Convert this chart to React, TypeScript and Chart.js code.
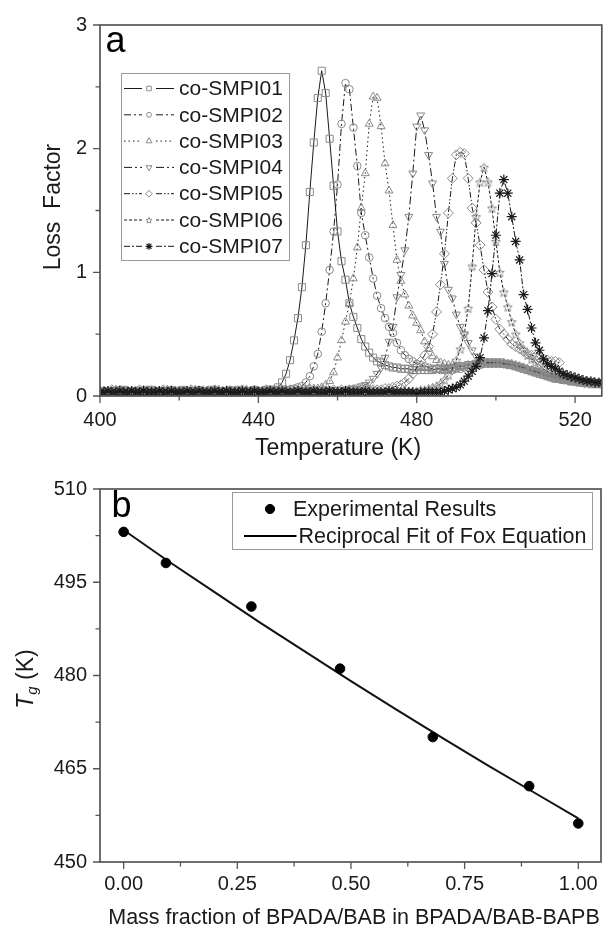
import React, { useEffect, useRef } from 'react';
import { Chart, registerables } from 'chart.js';
import { drawPoint } from 'chart.js/helpers';

Chart.register(...registerables);

const FONT = '"Liberation Sans", Arial, Helvetica, sans-serif';

// ---------------- Panel (a): dielectric loss factor vs temperature ----------------
const temperatureK = [
  400, 401, 402, 403, 404, 405, 406, 407, 408, 409,
  410, 411, 412, 413, 414, 415, 416, 417, 418, 419,
  420, 421, 422, 423, 424, 425, 426, 427, 428, 429,
  430, 431, 432, 433, 434, 435, 436, 437, 438, 439,
  440, 441, 442, 443, 444, 445, 446, 447, 448, 449,
  450, 451, 452, 453, 454, 455, 456, 457, 458, 459,
  460, 461, 462, 463, 464, 465, 466, 467, 468, 469,
  470, 471, 472, 473, 474, 475, 476, 477, 478, 479,
  480, 481, 482, 483, 484, 485, 486, 487, 488, 489,
  490, 491, 492, 493, 494, 495, 496, 497, 498, 499,
  500, 501, 502, 503, 504, 505, 506, 507, 508, 509,
  510, 511, 512, 513, 514, 515, 516, 517, 518, 519,
  520, 521, 522, 523, 524, 525, 526, 527,
];

const lossSMPI01 = [
  0.04, 0.03, 0.04, 0.04, 0.03, 0.04, 0.05, 0.04, 0.03, 0.04,
  0.04, 0.03, 0.04, 0.05, 0.04, 0.03, 0.04, 0.04, 0.03, 0.04,
  0.04, 0.05, 0.04, 0.03, 0.04, 0.04, 0.03, 0.04, 0.05, 0.04,
  0.03, 0.04, 0.04, 0.03, 0.04, 0.05, 0.04, 0.04, 0.04, 0.05,
  0.04, 0.04, 0.05, 0.05, 0.05, 0.07, 0.11, 0.18, 0.29, 0.45,
  0.63, 0.88, 1.22, 1.65, 2.05, 2.41, 2.63, 2.45, 2.08, 1.70,
  1.33, 1.09, 0.94, 0.75, 0.64, 0.55, 0.46, 0.40, 0.35, 0.31,
  0.28, 0.27, 0.25, 0.24, 0.23, 0.23, 0.22, 0.22, 0.22, 0.21,
  0.21, 0.21, 0.21, 0.21, 0.21, 0.22, 0.22, 0.22, 0.22, 0.23,
  0.23, 0.24, 0.24, 0.25, 0.25, 0.26, 0.26, 0.27, 0.27, 0.27,
  0.27, 0.27, 0.26, 0.26, 0.25, 0.24, 0.23, 0.22, 0.21, 0.20,
  0.19, 0.18, 0.17, 0.16, 0.15, 0.14, 0.14, 0.13, 0.13, 0.12,
  0.12, 0.12, 0.11, 0.11, 0.11, 0.10, 0.10, 0.10,
];

const lossSMPI02 = [
  0.03, 0.04, 0.04, 0.03, 0.04, 0.05, 0.04, 0.03, 0.04, 0.04,
  0.03, 0.04, 0.05, 0.04, 0.04, 0.03, 0.04, 0.04, 0.05, 0.04,
  0.03, 0.04, 0.04, 0.03, 0.04, 0.05, 0.04, 0.03, 0.04, 0.04,
  0.04, 0.03, 0.04, 0.05, 0.04, 0.04, 0.03, 0.04, 0.04, 0.05,
  0.04, 0.04, 0.03, 0.04, 0.05, 0.04, 0.04, 0.05, 0.05, 0.06,
  0.07, 0.08, 0.11, 0.16, 0.24, 0.34, 0.52, 0.75, 1.02, 1.33,
  1.71, 2.20, 2.53, 2.48, 2.17, 1.86, 1.48, 1.30, 1.12, 0.95,
  0.81, 0.71, 0.63, 0.56, 0.51, 0.43, 0.37, 0.33, 0.30, 0.28,
  0.26, 0.25, 0.24, 0.23, 0.22, 0.22, 0.21, 0.21, 0.21, 0.21,
  0.22, 0.22, 0.23, 0.23, 0.24, 0.25, 0.25, 0.26, 0.26, 0.26,
  0.26, 0.26, 0.26, 0.25, 0.25, 0.24, 0.23, 0.22, 0.21, 0.20,
  0.19, 0.18, 0.17, 0.16, 0.15, 0.14, 0.14, 0.13, 0.13, 0.12,
  0.12, 0.11, 0.11, 0.11, 0.10, 0.10, 0.10, 0.10,
];

const lossSMPI03 = [
  0.04, 0.04, 0.03, 0.04, 0.05, 0.04, 0.03, 0.04, 0.04, 0.03,
  0.04, 0.05, 0.04, 0.04, 0.03, 0.04, 0.04, 0.05, 0.04, 0.03,
  0.04, 0.04, 0.03, 0.04, 0.05, 0.04, 0.04, 0.03, 0.04, 0.04,
  0.05, 0.04, 0.03, 0.04, 0.04, 0.03, 0.04, 0.05, 0.04, 0.04,
  0.03, 0.04, 0.04, 0.05, 0.04, 0.04, 0.04, 0.05, 0.04, 0.05,
  0.05, 0.05, 0.05, 0.06, 0.06, 0.06, 0.07, 0.09, 0.12, 0.19,
  0.31, 0.45, 0.60, 0.75, 0.95, 1.20, 1.52, 1.80, 2.20, 2.42,
  2.41, 2.18, 1.88, 1.66, 1.38, 1.10, 0.93, 0.82, 0.73, 0.65,
  0.59, 0.53, 0.44, 0.38, 0.32, 0.29, 0.27, 0.26, 0.25, 0.25,
  0.24, 0.24, 0.24, 0.25, 0.25, 0.26, 0.26, 0.27, 0.27, 0.27,
  0.27, 0.27, 0.27, 0.26, 0.26, 0.25, 0.24, 0.23, 0.22, 0.21,
  0.20, 0.19, 0.18, 0.17, 0.16, 0.15, 0.14, 0.14, 0.13, 0.13,
  0.12, 0.12, 0.11, 0.11, 0.11, 0.10, 0.10, 0.10,
];

const lossSMPI04 = [
  0.04, 0.03, 0.04, 0.04, 0.05, 0.04, 0.03, 0.04, 0.04, 0.03,
  0.04, 0.04, 0.05, 0.04, 0.03, 0.04, 0.04, 0.03, 0.04, 0.05,
  0.04, 0.04, 0.03, 0.04, 0.04, 0.05, 0.04, 0.03, 0.04, 0.04,
  0.03, 0.04, 0.05, 0.04, 0.04, 0.03, 0.04, 0.04, 0.05, 0.04,
  0.04, 0.03, 0.04, 0.04, 0.05, 0.04, 0.04, 0.03, 0.04, 0.04,
  0.05, 0.04, 0.04, 0.05, 0.04, 0.05, 0.05, 0.04, 0.05, 0.05,
  0.05, 0.05, 0.05, 0.06, 0.06, 0.07, 0.08, 0.09, 0.11, 0.14,
  0.18, 0.23, 0.31, 0.44, 0.56, 0.80, 0.98, 1.18, 1.45, 1.80,
  2.18, 2.27, 2.15, 1.95, 1.72, 1.45, 1.33, 1.07, 0.86, 0.79,
  0.66, 0.56, 0.50, 0.43, 0.37, 0.32, 0.29, 0.28, 0.27, 0.27,
  0.27, 0.27, 0.26, 0.26, 0.25, 0.25, 0.24, 0.23, 0.22, 0.21,
  0.20, 0.19, 0.18, 0.17, 0.16, 0.15, 0.14, 0.14, 0.13, 0.13,
  0.12, 0.12, 0.11, 0.11, 0.11, 0.10, 0.10, 0.10,
];

const lossSMPI05 = [
  0.03, 0.04, 0.04, 0.05, 0.04, 0.03, 0.04, 0.04, 0.03, 0.04,
  0.05, 0.04, 0.04, 0.03, 0.04, 0.04, 0.05, 0.04, 0.03, 0.04,
  0.04, 0.03, 0.04, 0.05, 0.04, 0.04, 0.03, 0.04, 0.04, 0.05,
  0.04, 0.03, 0.04, 0.04, 0.03, 0.04, 0.05, 0.04, 0.04, 0.03,
  0.04, 0.04, 0.05, 0.04, 0.04, 0.03, 0.04, 0.04, 0.05, 0.04,
  0.04, 0.04, 0.04, 0.05, 0.04, 0.04, 0.05, 0.04, 0.04, 0.05,
  0.04, 0.05, 0.04, 0.05, 0.05, 0.04, 0.05, 0.05, 0.05, 0.05,
  0.05, 0.05, 0.06, 0.06, 0.07, 0.08, 0.09, 0.11, 0.14, 0.18,
  0.23, 0.28, 0.33, 0.40, 0.50, 0.68, 0.90, 1.15, 1.48, 1.76,
  1.95, 1.97, 1.96, 1.76, 1.52, 1.40, 1.22, 1.02, 0.84, 0.72,
  0.62, 0.54, 0.50, 0.46, 0.42, 0.40, 0.38, 0.36, 0.34, 0.33,
  0.32, 0.31, 0.30, 0.29, 0.28, 0.28, 0.27,
];

const lossSMPI06 = [
  0.04, 0.04, 0.03, 0.04, 0.04, 0.05, 0.04, 0.03, 0.04, 0.04,
  0.03, 0.04, 0.04, 0.05, 0.04, 0.04, 0.03, 0.04, 0.05, 0.04,
  0.04, 0.03, 0.04, 0.04, 0.03, 0.04, 0.05, 0.04, 0.04, 0.03,
  0.04, 0.04, 0.05, 0.04, 0.03, 0.04, 0.04, 0.03, 0.04, 0.05,
  0.04, 0.04, 0.03, 0.04, 0.04, 0.05, 0.04, 0.04, 0.03, 0.04,
  0.04, 0.05, 0.04, 0.04, 0.03, 0.04, 0.04, 0.05, 0.04, 0.04,
  0.03, 0.04, 0.04, 0.05, 0.04, 0.04, 0.04, 0.03, 0.04, 0.04,
  0.04, 0.04, 0.03, 0.04, 0.04, 0.04, 0.03, 0.04, 0.04, 0.04,
  0.04, 0.05, 0.05, 0.06, 0.07, 0.08, 0.10, 0.13, 0.17, 0.22,
  0.29, 0.38, 0.50, 0.71, 1.05, 1.45, 1.73, 1.85, 1.73, 1.52,
  1.25, 1.00, 0.84, 0.72, 0.60, 0.50, 0.43, 0.38, 0.33, 0.30,
  0.27, 0.25, 0.22, 0.20, 0.18, 0.16, 0.15, 0.14, 0.13, 0.12,
  0.12, 0.11, 0.11, 0.10, 0.10, 0.10, 0.10, 0.10,
];

const lossSMPI07 = [
  0.03, 0.03, 0.04, 0.03, 0.03, 0.04, 0.03, 0.03, 0.04, 0.03,
  0.03, 0.04, 0.03, 0.03, 0.03, 0.04, 0.03, 0.03, 0.04, 0.03,
  0.03, 0.03, 0.04, 0.03, 0.03, 0.04, 0.03, 0.03, 0.03, 0.04,
  0.03, 0.03, 0.04, 0.03, 0.03, 0.03, 0.04, 0.03, 0.03, 0.04,
  0.03, 0.03, 0.03, 0.04, 0.03, 0.03, 0.04, 0.03, 0.03, 0.03,
  0.04, 0.03, 0.03, 0.03, 0.04, 0.03, 0.03, 0.03, 0.04, 0.03,
  0.03, 0.03, 0.04, 0.03, 0.03, 0.03, 0.03, 0.04, 0.03, 0.03,
  0.03, 0.03, 0.03, 0.04, 0.03, 0.03, 0.03, 0.03, 0.03, 0.03,
  0.02, 0.03, 0.03, 0.03, 0.03, 0.03, 0.03, 0.04, 0.05, 0.06,
  0.07, 0.09, 0.12, 0.16, 0.20, 0.24, 0.31, 0.47, 0.69, 0.99,
  1.30, 1.64, 1.75, 1.64, 1.45, 1.25, 1.10, 0.82, 0.70, 0.55,
  0.43, 0.37, 0.30, 0.26, 0.24, 0.22, 0.20, 0.18, 0.17, 0.16,
  0.15, 0.14, 0.13, 0.12, 0.12, 0.11, 0.11, 0.11,
];

const sampleNames = ['co-SMPI01', 'co-SMPI02', 'co-SMPI03', 'co-SMPI04', 'co-SMPI05', 'co-SMPI06', 'co-SMPI07'];

const lossXTicks = [400, 440, 480, 520];
const lossXMinor = [420, 460, 500];
const lossYTicks = [0, 1, 2, 3];
const lossYMinor = [0.5, 1.5, 2.5];

// ---------------- Panel (b): Tg vs mass fraction ----------------
const massFraction = [0, 0.093, 0.281, 0.476, 0.68, 0.892, 1.0];
const tgMeasured = [503.1, 498.1, 491.1, 481.1, 470.1, 462.2, 456.2];
const foxFraction = [0, 0.1, 0.2, 0.3, 0.4, 0.5, 0.6, 0.7, 0.8, 0.9, 1.0];
const foxTg = [503.4, 498.3, 493.4, 488.5, 483.8, 479.1, 474.5, 470.0, 465.6, 461.3, 457.0];

const tgXTicks = [0, 0.25, 0.5, 0.75, 1];
const tgXMinor = [0.125, 0.375, 0.625, 0.875];
const tgYTicks = [450, 465, 480, 495, 510];
const tgYMinor = [457.5, 472.5, 487.5, 502.5];

// ---------------- helpers ----------------
const GREY = '#8a8a8a';
const INK = '#1a1a1a';
const AXIS = '#555555';

function makeStar(size: number, color: string) {
  const c = document.createElement('canvas');
  c.width = size;
  c.height = size;
  const g = c.getContext('2d')!;
  g.strokeStyle = color;
  g.lineWidth = 1;
  const cx = size / 2;
  const cy = size / 2 + 0.5;
  const R = size / 2 - 0.8;
  const r = R * 0.45;
  g.beginPath();
  for (let k = 0; k < 10; k++) {
    const ang = -Math.PI / 2 + (k * Math.PI) / 5;
    const rr = k % 2 === 0 ? R : r;
    const px = cx + rr * Math.cos(ang);
    const py = cy + rr * Math.sin(ang);
    if (k === 0) g.moveTo(px, py);
    else g.lineTo(px, py);
  }
  g.closePath();
  g.stroke();
  return c;
}

function drawFrame(chart: any, t: { xMajor: number[]; xMinor: number[]; yMajor: number[]; yMinor: number[] }) {
  const ctx = chart.ctx;
  const a = chart.chartArea;
  const xs = chart.scales.x;
  const ys = chart.scales.y;
  ctx.save();
  ctx.strokeStyle = AXIS;
  ctx.lineWidth = 1.3;
  ctx.setLineDash([]);
  ctx.beginPath();
  const xt = (v: number, len: number) => {
    const p = xs.getPixelForValue(v);
    ctx.moveTo(p, a.bottom);
    ctx.lineTo(p, a.bottom + len);
  };
  const yt = (v: number, len: number) => {
    const p = ys.getPixelForValue(v);
    ctx.moveTo(a.left, p);
    ctx.lineTo(a.left - len, p);
  };
  t.xMajor.forEach((v) => xt(v, 7));
  t.xMinor.forEach((v) => xt(v, 4.5));
  t.yMajor.forEach((v) => yt(v, 7));
  t.yMinor.forEach((v) => yt(v, 4.5));
  ctx.stroke();
  ctx.lineWidth = 1.7;
  ctx.strokeRect(a.left, a.top, a.right - a.left, a.bottom - a.top);
  ctx.restore();
}

function fixedTicks(values: number[]) {
  return (scale: any) => {
    scale.ticks = values.map((v) => ({ value: v }));
  };
}

export default function App() {
  const topRef = useRef<HTMLCanvasElement>(null);
  const botRef = useRef<HTMLCanvasElement>(null);

  useEffect(() => {
    const star = makeStar(11, GREY);
    const starSmall = makeStar(8, GREY);
    const styles: any[] = [
      { style: 'rect', radius: 5, rot: 0, dash: [], color: GREY, lr: 3.2, bw: 1 },
      { style: 'circle', radius: 3.8, rot: 0, dash: [7, 3, 2, 3], color: GREY, lr: 2.4, bw: 1 },
      { style: 'triangle', radius: 4.6, rot: 0, dash: [1.5, 3], color: GREY, lr: 3.4, bw: 1 },
      { style: 'triangle', radius: 4.6, rot: 180, dash: [8, 3, 2, 3], color: GREY, lr: 3.4, bw: 1 },
      { style: 'rectRot', radius: 5, rot: 0, dash: [6, 2, 1.5, 2, 1.5, 2], color: GREY, lr: 3.4, bw: 1 },
      { style: star, radius: 5, rot: 0, dash: [3, 2], color: GREY, lr: 3, legendImg: starSmall, bw: 1 },
      { style: 'star', radius: 5, rot: 0, dash: [6, 2, 2, 2], color: '#1a1a1a', lr: 3.4, bw: 1.2 },
    ];
    const lossSeries = [lossSMPI01, lossSMPI02, lossSMPI03, lossSMPI04, lossSMPI05, lossSMPI06, lossSMPI07];

    const tickFont = { family: FONT, size: 20 };

    const topDeco = {
      id: 'topDeco',
      afterDraw(chart: any) {
        drawFrame(chart, { xMajor: lossXTicks, xMinor: lossXMinor, yMajor: lossYTicks, yMinor: lossYMinor });
        const ctx = chart.ctx;
        ctx.save();
        ctx.fillStyle = '#000';
        ctx.font = `36px ${FONT}`;
        ctx.textAlign = 'left';
        ctx.textBaseline = 'alphabetic';
        ctx.fillText('a', 105.5, 51.5);
        ctx.fillStyle = INK;
        ctx.font = `23px ${FONT}`;
        ctx.textAlign = 'center';
        ctx.fillText('Temperature (K)', 338, 455);
        ctx.save();
        ctx.translate(60, 207);
        ctx.rotate(-Math.PI / 2);
        ctx.fillText('Loss  Factor', 0, 0);
        ctx.restore();
        // legend
        ctx.fillStyle = '#fff';
        ctx.fillRect(121, 73, 168, 187);
        ctx.strokeStyle = '#9a9a9a';
        ctx.lineWidth = 1;
        ctx.strokeRect(121.5, 73.5, 168, 187);
        sampleNames.forEach((name, i) => {
          const st = styles[i];
          const y = 88.5 + i * 26.3;
          ctx.strokeStyle = INK;
          ctx.lineWidth = 1;
          ctx.setLineDash(st.dash);
          ctx.beginPath();
          ctx.moveTo(124, y);
          ctx.lineTo(142, y);
          ctx.moveTo(156, y);
          ctx.lineTo(174, y);
          ctx.stroke();
          ctx.setLineDash([]);
          ctx.strokeStyle = st.color;
          ctx.lineWidth = st.bw;
          ctx.fillStyle = 'rgba(0,0,0,0)';
          drawPoint(ctx, { pointStyle: st.legendImg || st.style, radius: st.lr, rotation: st.rot, borderWidth: 1 } as any, 149, y);
          ctx.fillStyle = INK;
          ctx.font = `21px ${FONT}`;
          ctx.textAlign = 'left';
          ctx.textBaseline = 'middle';
          ctx.fillText(name, 179, y + 1);
        });
        ctx.restore();
      },
    };

    const c1 = new Chart(topRef.current!, {
      type: 'line',
      data: {
        datasets: lossSeries.map((vals, i) => {
          const st = styles[i];
          return {
            label: sampleNames[i],
            data: vals.map((v, j) => ({ x: temperatureK[j], y: v })),
            order: lossSeries.length - i,
            borderColor: INK,
            borderWidth: 1,
            borderDash: st.dash,
            pointStyle: st.style,
            pointRadius: st.radius,
            pointRotation: st.rot,
            pointBorderColor: st.color,
            pointBackgroundColor: 'rgba(0,0,0,0)',
            pointBorderWidth: st.bw,
            tension: 0,
            fill: false,
          };
        }),
      },
      options: {
        animation: false,
        responsive: false,
        events: [],
        layout: { padding: { top: 21, right: 1, left: 0, bottom: 0 } },
        plugins: { legend: { display: false }, tooltip: { enabled: false } },
        scales: {
          x: {
            type: 'linear',
            min: 400,
            max: 526.75,
            afterBuildTicks: fixedTicks(lossXTicks),
            afterFit: (s: any) => {
              s.height = 68;
            },
            grid: { display: false, drawTicks: false },
            border: { display: false },
            ticks: { font: tickFont, color: INK, padding: 12, maxRotation: 0, autoSkip: false, callback: (v: any) => String(v) },
          },
          y: {
            type: 'linear',
            min: 0,
            max: 3,
            afterBuildTicks: fixedTicks(lossYTicks),
            afterFit: (s: any) => {
              s.width = 100;
            },
            grid: { display: false, drawTicks: false },
            border: { display: false },
            ticks: { font: tickFont, color: INK, padding: 13, autoSkip: false, callback: (v: any) => String(v) },
          },
        },
      } as any,
      plugins: [topDeco as any],
    });

    const botDeco = {
      id: 'botDeco',
      afterDraw(chart: any) {
        drawFrame(chart, { xMajor: tgXTicks, xMinor: tgXMinor, yMajor: tgYTicks, yMinor: tgYMinor });
        const ctx = chart.ctx;
        ctx.save();
        ctx.fillStyle = '#000';
        ctx.font = `36px ${FONT}`;
        ctx.textAlign = 'left';
        ctx.textBaseline = 'alphabetic';
        ctx.fillText('b', 111.5, 52.5);
        ctx.fillStyle = INK;
        ctx.font = `21.5px ${FONT}`;
        ctx.textAlign = 'center';
        ctx.fillText('Mass fraction of BPADA/BAB in BPADA/BAB-BAPB', 354, 460);
        // y title  T_g (K)
        ctx.save();
        ctx.translate(33, 215);
        ctx.rotate(-Math.PI / 2);
        ctx.textAlign = 'left';
        const fT = `italic 23px ${FONT}`;
        const fg = `italic 15px ${FONT}`;
        const fK = `23px ${FONT}`;
        ctx.font = fT;
        const wT = ctx.measureText('T').width;
        ctx.font = fg;
        const wg = ctx.measureText('g').width;
        ctx.font = fK;
        const wK = ctx.measureText(' (K)').width;
        let x0 = -(wT + wg + wK) / 2;
        ctx.font = fT;
        ctx.fillText('T', x0, 0);
        x0 += wT;
        ctx.font = fg;
        ctx.fillText('g', x0, 4);
        x0 += wg;
        ctx.font = fK;
        ctx.fillText(' (K)', x0, 0);
        ctx.restore();
        // legend
        ctx.fillStyle = '#fff';
        ctx.fillRect(232, 28, 360, 57);
        ctx.strokeStyle = '#9a9a9a';
        ctx.lineWidth = 1;
        ctx.strokeRect(232.5, 28.5, 360, 57);
        ctx.fillStyle = '#000';
        ctx.strokeStyle = '#000';
        drawPoint(ctx, { pointStyle: 'circle', radius: 4.6, rotation: 0, borderWidth: 1 } as any, 270, 45);
        ctx.lineWidth = 2;
        ctx.beginPath();
        ctx.moveTo(244, 72);
        ctx.lineTo(296.5, 72);
        ctx.stroke();
        ctx.fillStyle = INK;
        ctx.font = `21.5px ${FONT}`;
        ctx.textAlign = 'left';
        ctx.textBaseline = 'middle';
        ctx.fillText('Experimental Results', 293, 46);
        ctx.fillText('Reciprocal Fit of Fox Equation', 298.5, 73);
        ctx.restore();
      },
    };

    const c2 = new Chart(botRef.current!, {
      type: 'scatter',
      data: {
        datasets: [
          {
            label: 'Experimental Results',
            data: massFraction.map((x, i) => ({ x, y: tgMeasured[i] })),
            showLine: false,
            pointStyle: 'circle',
            pointRadius: 4.8,
            pointBackgroundColor: '#000',
            pointBorderColor: '#000',
            pointBorderWidth: 1,
          },
          {
            label: 'Reciprocal Fit of Fox Equation',
            data: foxFraction.map((x, i) => ({ x, y: foxTg[i] })),
            showLine: true,
            borderColor: '#111',
            borderWidth: 2,
            pointRadius: 0,
            tension: 0,
            fill: false,
          },
        ],
      },
      options: {
        animation: false,
        responsive: false,
        events: [],
        layout: { padding: { top: 21, right: 1, left: 0, bottom: 0 } },
        plugins: { legend: { display: false }, tooltip: { enabled: false } },
        scales: {
          x: {
            type: 'linear',
            min: -0.052,
            max: 1.05,
            afterBuildTicks: fixedTicks(tgXTicks),
            afterFit: (s: any) => {
              s.height = 66;
            },
            grid: { display: false, drawTicks: false },
            border: { display: false },
            ticks: { font: tickFont, color: INK, padding: 10, maxRotation: 0, autoSkip: false, callback: (v: any) => Number(v).toFixed(2) },
          },
          y: {
            type: 'linear',
            min: 450,
            max: 510,
            afterBuildTicks: fixedTicks(tgYTicks),
            afterFit: (s: any) => {
              s.width = 100;
            },
            grid: { display: false, drawTicks: false },
            border: { display: false },
            ticks: { font: tickFont, color: INK, padding: 13, autoSkip: false, callback: (v: any) => String(v) },
          },
        },
      } as any,
      plugins: [botDeco as any],
    });

    return () => {
      c1.destroy();
      c2.destroy();
    };
  }, []);

  return (
    <div style={{ position: 'absolute', left: 0, top: 0, width: 608, height: 928, background: '#fff' }}>
      <canvas ref={topRef} width={608} height={464} style={{ position: 'absolute', left: 0, top: 0, display: 'block' }} />
      <canvas ref={botRef} width={608} height={464} style={{ position: 'absolute', left: 0, top: 464, display: 'block' }} />
    </div>
  );
}
